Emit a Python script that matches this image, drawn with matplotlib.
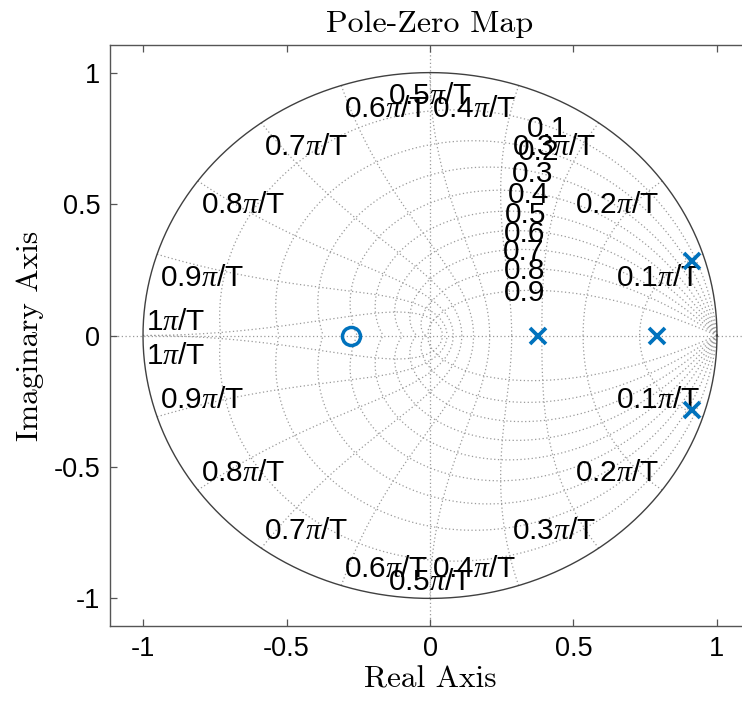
import numpy as np
import matplotlib.pyplot as plt

# poles and zeros
pole_re = [0.375, 0.79, 0.912, 0.912]
pole_im = [0.0, 0.0, 0.285, -0.285]
zero_re = [-0.275]
zero_im = [0.0]

# zgrid settings
zeta_vals = [0.1, 0.2, 0.3, 0.4, 0.5, 0.6, 0.7, 0.8, 0.9]
wn_vals = [0.1, 0.2, 0.3, 0.4, 0.5, 0.6, 0.7, 0.8, 0.9, 1.0]  # units of pi/T
wn_names = ['0.1', '0.2', '0.3', '0.4', '0.5', '0.6', '0.7', '0.8', '0.9', '1']

ticks = [-1, -0.5, 0, 0.5, 1]
tick_labels = ['-1', '-0.5', '0', '0.5', '1']

plt.rcParams['axes.unicode_minus'] = False
plt.rcParams['mathtext.fontset'] = 'custom'
plt.rcParams['mathtext.it'] = 'Liberation Serif:italic'
plt.rcParams['mathtext.rm'] = 'Liberation Sans'

fig = plt.figure(figsize=(7.42, 7.08), dpi=100)
ax = fig.add_axes([110 / 742, 82 / 708, 640 / 742, 581 / 708])

grid_kw = dict(color='#9a9a9a', lw=0.9, ls=(0, (1, 2)), zorder=1)
lab_kw = dict(fontsize=21.5, family='Liberation Sans', color='black', zorder=3)

# damping ratio curves
for z in zeta_vals:
    s = -z + 1j * np.sqrt(1 - z ** 2)
    w = np.linspace(0, np.pi / np.sqrt(1 - z ** 2), 400)
    pts = np.exp(w * s)
    ax.plot(pts.real, pts.imag, **grid_kw)
    ax.plot(pts.real, -pts.imag, **grid_kw)
    p = np.exp(0.35 * np.pi * s)
    ax.annotate(f'{z:g}', (p.real, p.imag), xytext=(0, -2), textcoords='offset points',
                ha='center', va='center', **lab_kw)

# natural frequency curves
zz = np.linspace(0, 1, 300)
for wn, name in zip(wn_vals, wn_names):
    w = wn * np.pi
    pts = np.exp(w * (-zz + 1j * np.sqrt(1 - zz ** 2)))
    ax.plot(pts.real, pts.imag, **grid_kw)
    ax.plot(pts.real, -pts.imag, **grid_kw)
    cx, cy = np.cos(w), np.sin(w)
    if cx > 1e-6:
        ha, dx = 'right', -2
    elif cx < -1e-6:
        ha, dx = 'left', 2
    else:
        ha, dx = 'center', 0
    label = name + r'$\pi$/T'
    if wn < 1:
        ax.annotate(label, (cx, cy), xytext=(dx, -7), textcoords='offset points',
                    ha=ha, va='top', **lab_kw)
        ax.annotate(label, (cx, -cy), xytext=(dx, 2), textcoords='offset points',
                    ha=ha, va='bottom', **lab_kw)
    else:
        ax.annotate(label, (cx, 0), xytext=(dx, 0), textcoords='offset points',
                    ha=ha, va='bottom', **lab_kw)
        ax.annotate(label, (cx, 0), xytext=(dx, -5), textcoords='offset points',
                    ha=ha, va='top', **lab_kw)

# unit circle
th = np.linspace(0, 2 * np.pi, 600)
ax.plot(np.cos(th), np.sin(th), color='#404040', lw=1.0, zorder=2)
ax.axhline(0, **grid_kw)
ax.axvline(0, **grid_kw)

ax.plot(pole_re, pole_im, 'x', color='#0072BD', ms=12, mew=2.7, zorder=4)
ax.plot(zero_re, zero_im, 'o', color='#0072BD', ms=13, mew=2.5, mfc='none', zorder=4)

ax.set_xlim(-1.115, 1.115)
ax.set_ylim(-1.105, 1.105)
ax.set_xticks(ticks)
ax.set_xticklabels(tick_labels)
ax.set_yticks(ticks)
ax.set_yticklabels(tick_labels)
ax.tick_params(direction='in', length=5, width=0.9, color='#555555',
               top=True, right=True, labelsize=19.5, pad=7)
for lab in ax.get_xticklabels() + ax.get_yticklabels():
    lab.set_family('Liberation Sans')
for sp in ax.spines.values():
    sp.set_color('#555555')
    sp.set_linewidth(1.0)

ax.set_title('Pole-Zero Map', fontname='cmr10', fontsize=23, pad=9)
ax.set_xlabel('Real Axis', fontname='cmr10', fontsize=22.5, labelpad=3)
ax.set_ylabel('Imaginary Axis', fontname='cmr10', fontsize=22.5, labelpad=7)

fig.savefig('out.png', dpi=100)
